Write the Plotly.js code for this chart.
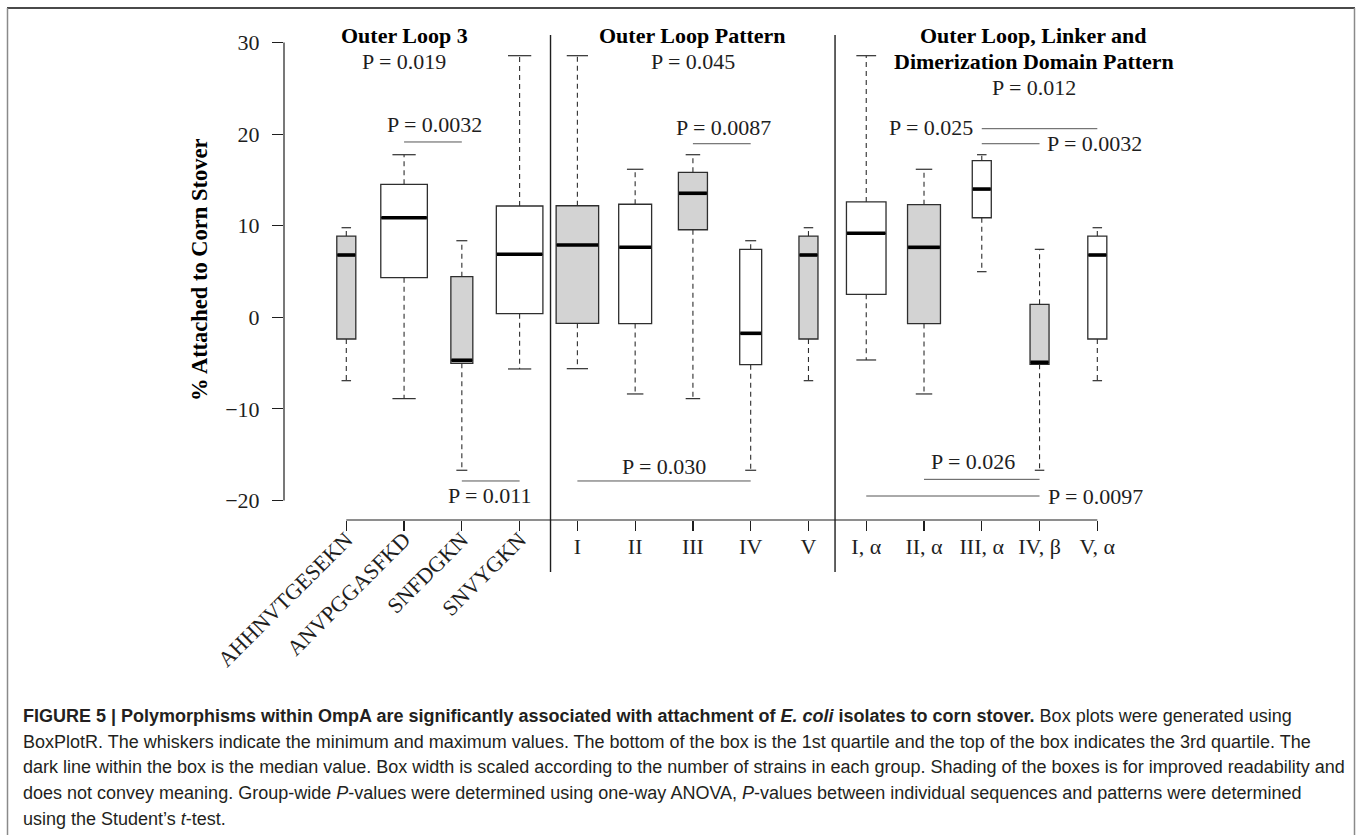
<!DOCTYPE html>
<html><head><meta charset="utf-8">
<script src="https://cdn.plot.ly/plotly-3.0.1.min.js"></script>
<style>html,body{margin:0;padding:0;background:#fff;} #chart{width:1358px;height:835px;}</style>
</head><body><div id="chart"></div>
<script>
// ---------- data ----------
const categories = ['AHHNVTGESEKN','ANVPGGASFKD','SNFDGKN','SNVYGKN','I','II','III','IV','V','I, α','II, α','III, α','IV, β','V, α'];
const minVals = [-6.92, -8.88, -16.7, -5.64, -5.61, -8.37, -8.88, -16.7, -6.92, -4.66, -8.37, 4.98, -16.7, -6.92];
const q1Vals  = [-2.37, 4.33, -5.02, 0.39, -0.66, -0.69, 9.56, -5.17, -2.37, 2.51, -0.69, 10.87, -5.13, -2.37];
const medVals = [6.8, 10.87, -4.69, 6.88, 7.89, 7.64, 13.54, -1.75, 6.8, 9.17, 7.64, 14.0, -4.91, 6.8];
const q3Vals  = [8.87, 14.52, 4.43, 12.15, 12.18, 12.34, 15.83, 7.42, 8.87, 12.59, 12.3, 17.1, 1.42, 8.87];
const maxVals = [9.78, 17.75, 8.36, 28.56, 28.56, 16.16, 17.75, 8.36, 9.78, 28.56, 16.16, 17.75, 7.42, 9.78];
const nStrains = [3, 18, 4, 18, 15, 9, 7, 4, 3, 13, 9, 3, 3, 3];
const yTicks = [-20, -10, 0, 10, 20, 30];
const groupNames = ['Outer Loop 3', 'Outer Loop Pattern', 'Outer Loop, Linker and<br>Dimerization Domain Pattern'];
const groupP = ['P = 0.019', 'P = 0.045', 'P = 0.012'];
const groupSize = [4, 5, 5];
const cmpFrom = [2, 3, 7, 5, 12, 12, 11, 10];
const cmpTo   = [3, 4, 8, 8, 14, 13, 13, 13];
const cmpText = ['P = 0.0032', 'P = 0.011', 'P = 0.0087', 'P = 0.030', 'P = 0.025', 'P = 0.0032', 'P = 0.026', 'P = 0.0097'];
const yTitle = '% Attached to Corn Stover';
const captionLines = [
  '<b>FIGURE 5 | Polymorphisms within OmpA are significantly associated with attachment of <i>E. coli</i> isolates to corn stover.</b> Box plots were generated using',
  'BoxPlotR. The whiskers indicate the minimum and maximum values. The bottom of the box is the 1st quartile and the top of the box indicates the 3rd quartile. The',
  'dark line within the box is the median value. Box width is scaled according to the number of strains in each group. Shading of the boxes is for improved readability and',
  'does not convey meaning. Group-wide <i>P</i>-values were determined using one-way ANOVA, <i>P</i>-values between individual sequences and patterns were determined',
  'using the Student\u2019s <i>t</i>-test.'
];

// ---------- layout geometry ----------
const FIG_W = 1358, FIG_H = 835;
const L = 284, R = 198, T = 24, B = 315;
const W = FIG_W - L - R, H = FIG_H - T - B;
const px2x = px => (px - L) / W;
const py2y = py => (T + H - py) / H;
const XR = [-0.0784, 15.085], YR = [-22.13, 32.02];
const serif = 'Liberation Serif, Times New Roman, serif';
const FS = 22;
const ink = '#1e1e1e';
const boxLine = '#2e2e2e';

const pos = categories.map((c, i) => i + 1);
const widthOf = n => 0.19 * Math.sqrt(n);

// ---------- traces ----------
const traces = categories.map((c, i) => ({
  type: 'box', name: c, x: [pos[i]],
  q1: [q1Vals[i]], median: [medVals[i]], q3: [q3Vals[i]],
  lowerfence: [q1Vals[i]], upperfence: [q3Vals[i]],
  width: widthOf(nStrains[i]), whiskerwidth: 0, boxpoints: false,
  fillcolor: i % 2 === 0 ? '#d3d3d3' : '#ffffff',
  line: {color: boxLine, width: 1.3},
  hoverinfo: 'skip', showlegend: false
}));

const wx = [], wy = [], cx = [], cy = [], mx = [], my = [];
categories.forEach((c, i) => {
  const p = pos[i], w = widthOf(nStrains[i]);
  wx.push(p, p, null, p, p, null);
  wy.push(q3Vals[i], maxVals[i], null, q1Vals[i], minVals[i], null);
  cx.push(p - w / 4, p + w / 4, null, p - w / 4, p + w / 4, null);
  cy.push(maxVals[i], maxVals[i], null, minVals[i], minVals[i], null);
  mx.push(p - w / 2 + 0.01, p + w / 2 - 0.01, null);
  my.push(medVals[i], medVals[i], null);
});
traces.push({type: 'scatter', mode: 'lines', x: wx, y: wy, line: {color: boxLine, width: 1.1, dash: '5px,4px'}, hoverinfo: 'skip', showlegend: false});
traces.push({type: 'scatter', mode: 'lines', x: cx, y: cy, line: {color: boxLine, width: 1.2}, hoverinfo: 'skip', showlegend: false});
traces.push({type: 'scatter', mode: 'lines', x: mx, y: my, line: {color: '#000', width: 3.6}, hoverinfo: 'skip', showlegend: false});

// ---------- shapes ----------
const shapes = [];
const line = (o, color, width) => Object.assign({type: 'line', layer: 'above', line: {color: color || ink, width: width || 1.2}}, o);
shapes.push(line({xref: 'paper', yref: 'y', x0: 0, x1: 0, y0: yTicks[0], y1: yTicks[yTicks.length - 1]}));
shapes.push(line({xref: 'x', yref: 'paper', x0: pos[0], x1: pos[pos.length - 1], y0: 0, y1: 0}));
let acc = 0;
groupSize.slice(0, -1).forEach((g, k) => {
  acc += g;
  const xs = acc + 0.5 + (k === 0 ? 0.035 : -0.04);
  shapes.push(line({xref: 'x', yref: 'paper', x0: xs, x1: xs, y0: py2y(572), y1: py2y(35)}, ink, 1.4));
});
const cmpLevel = [19.14, -17.87, 18.95, -17.87, 20.59, 18.95, -17.69, -19.51];
cmpFrom.forEach((a, k) => {
  shapes.push(line({xref: 'x', yref: 'y', x0: a, x1: cmpTo[k], y0: cmpLevel[k], y1: cmpLevel[k]}, '#555', 1));
});
// figure frame
shapes.push(line({xref: 'paper', yref: 'paper', x0: px2x(7), x1: px2x(1355), y0: py2y(8), y1: py2y(8)}, '#4a4a4a', 2));
shapes.push(line({xref: 'paper', yref: 'paper', x0: px2x(7.5), x1: px2x(7.5), y0: py2y(8), y1: py2y(840)}, '#8a8a8a', 1.5));
shapes.push(line({xref: 'paper', yref: 'paper', x0: px2x(1354.5), x1: px2x(1354.5), y0: py2y(8), y1: py2y(840)}, '#8a8a8a', 1.5));

// ---------- annotations ----------
const ann = [];
const tfont = {family: serif, size: FS, color: ink};
const txt = (text, x, y, o) => Object.assign({text, x, y, xref: 'x', yref: 'y', showarrow: false, font: tfont, xanchor: 'center', yanchor: 'middle'}, o || {});
const groupCenter = [2, 7, 12.9];
const titleRowPx = [35, 61.5, 87.5];
groupNames.forEach((g, k) => {
  const rows = g.split('<br>');
  rows.forEach((r, j) => ann.push(txt('<b>' + r + '</b>', groupCenter[k], py2y(titleRowPx[j]), {yref: 'paper', font: {family: serif, size: FS, color: '#000'}})));
  ann.push(txt(groupP[k], groupCenter[k], py2y(titleRowPx[rows.length]), {yref: 'paper'}));
});
const cmpLabX = [2.52, 3.49, 7.53, 6.5, 11.88, 13.09, 11.84, 13.12];
const cmpLabY = [21.0, -19.48, 20.7, -16.31, 20.74, 19.0, -15.69, -19.51];
const cmpAnchor = ['center', 'center', 'center', 'center', 'right', 'left', 'center', 'left'];
cmpText.forEach((t, k) => ann.push(txt(t, cmpLabX[k], cmpLabY[k], {xanchor: cmpAnchor[k]})));
ann.push({text: '<b>' + yTitle + '</b>', xref: 'paper', yref: 'paper', x: px2x(199), y: py2y(270), textangle: -90,
  showarrow: false, xanchor: 'center', yanchor: 'middle', font: {family: serif, size: 22.5, color: '#000'}});
captionLines.forEach((t, k) => ann.push({text: t, xref: 'paper', yref: 'paper', x: px2x(21), y: py2y(716 + k * 25.7),
  xanchor: 'left', yanchor: 'middle', align: 'left', showarrow: false,
  font: {family: 'Liberation Sans, Arial, sans-serif', size: 18, color: '#231f20'}}));

const xCommon = {range: XR, showgrid: false, zeroline: false, showline: false, ticks: 'outside', ticklen: 10, tickwidth: 1.2,
  tickcolor: ink, tickfont: tfont, fixedrange: true};
const layout = {
  width: FIG_W, height: FIG_H, margin: {l: L, r: R, t: T, b: B},
  paper_bgcolor: '#fff', plot_bgcolor: '#fff', boxmode: 'overlay', showlegend: false,
  xaxis: Object.assign({}, xCommon, {tickmode: 'array', tickvals: pos.slice(0, 4), ticktext: categories.slice(0, 4), tickangle: -45, ticklabelstandoff: -13}),
  xaxis2: Object.assign({}, xCommon, {overlaying: 'x', anchor: 'y', side: 'bottom', tickmode: 'array', tickvals: pos.slice(4), ticktext: categories.slice(4), tickangle: 0, ticklabelstandoff: -3}),
  yaxis: {range: YR, showgrid: false, zeroline: false, showline: false, ticks: 'outside', ticklen: 11, tickwidth: 1.2, tickcolor: ink,
    tickmode: 'array', tickvals: yTicks, tickfont: tfont, ticklabelstandoff: 8, fixedrange: true},
  shapes, annotations: ann
};
traces.push({type: 'scatter', x: [pos[4]], y: [null], xaxis: 'x2', mode: 'markers', hoverinfo: 'skip', showlegend: false});
Plotly.newPlot('chart', traces, layout, {displayModeBar: false, staticPlot: true});
</script></body></html>
